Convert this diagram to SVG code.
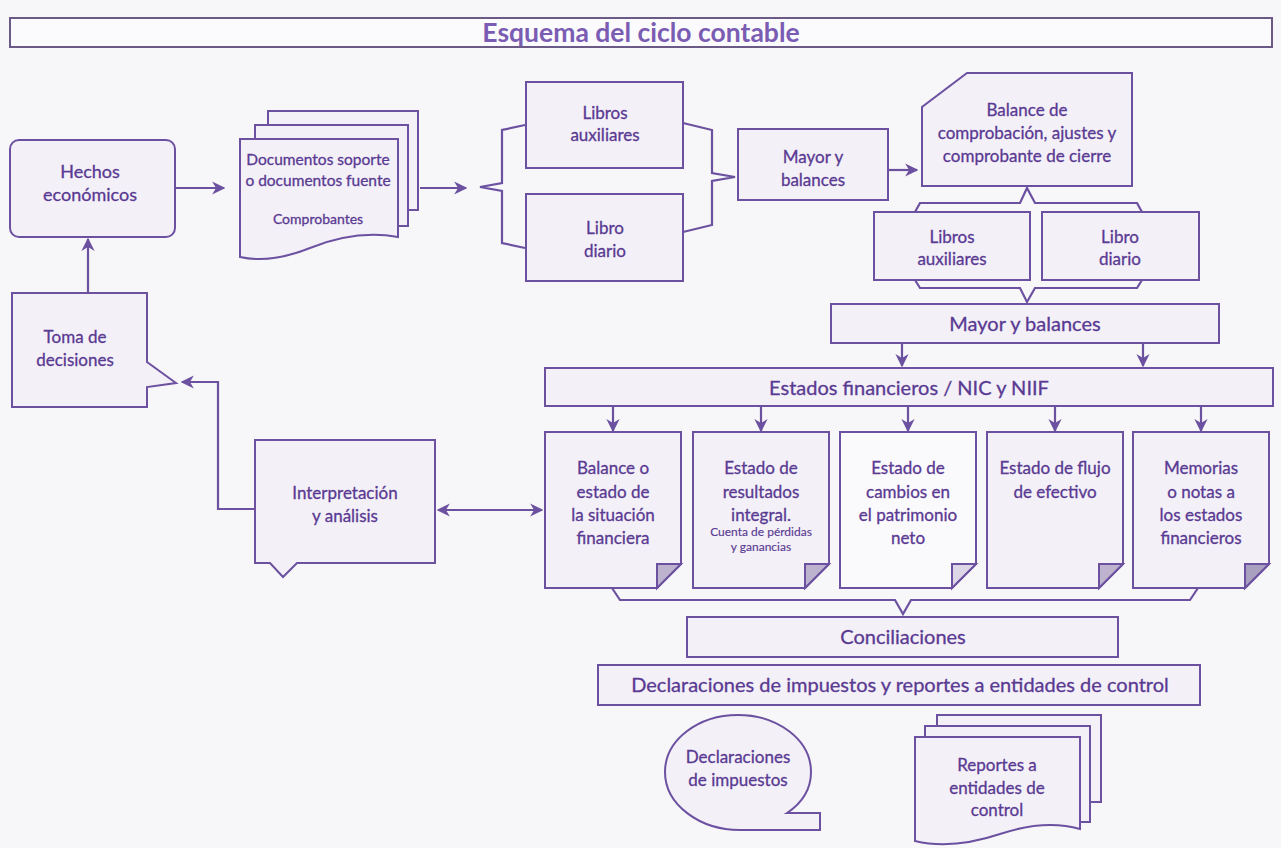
<svg xmlns="http://www.w3.org/2000/svg" width="1281" height="848" viewBox="0 0 1281 848">
<defs>
<style>
.bg{fill:#f7f6f8}
.n{fill:#f3f0f8;stroke:#6b51a0;stroke-width:2;stroke-linejoin:miter}
.w{fill:#faf9fc;stroke:#6b51a0;stroke-width:2}
.fold{fill:#bdb3cf;stroke:#6b51a0;stroke-width:2;stroke-linejoin:miter}
.c{fill:none;stroke:#6b51a0;stroke-width:2.2}
.t{font-family:Lato,"Open Sans","Liberation Sans",sans-serif;font-size:17px;fill:#5a3a92;stroke:#5a3a92;stroke-width:0.3;text-anchor:middle}
.l{font-size:20px}
.s{font-size:12px;stroke-width:0.15}
.m{font-size:14px}
.d{font-size:15.5px}
.title{font-family:Lato,"Open Sans","Liberation Sans",sans-serif;font-size:26.5px;font-weight:bold;fill:#7a5cb3;text-anchor:middle}
</style>
<marker id="ah" viewBox="0 0 10 10" refX="9" refY="5" markerWidth="6" markerHeight="6" orient="auto-start-reverse">
<path d="M0,0 L10,5 L0,10 L3,5 Z" fill="#6b51a0"/>
</marker>
</defs>
<rect class="bg" x="0" y="0" width="1281" height="848"/>

<g id="title">
<rect x="10" y="18" width="1262" height="29" fill="#fbfafc" stroke="#6b5a86" stroke-width="2"/>
<text class="title" x="641" y="42">Esquema del ciclo contable</text>
</g>

<g id="hechos">
<rect class="n" x="10" y="140" width="165" height="97" rx="9"/>
<text class="t" x="90" y="178" style="font-size:18px">Hechos</text>
<text class="t" x="90" y="201" style="font-size:18px">económicos</text>
</g>

<g id="toma">
<path class="n" d="M12,293 H147 V362 L176,383 L147,387 V407 H12 Z"/>
<text class="t" x="75" y="343">Toma de</text>
<text class="t" x="75" y="366">decisiones</text>
</g>

<g id="documentos">
<path class="n" d="M268,111 H418 V210 H268 Z"/>
<path class="n" d="M255,125 H408 V226 H255 Z"/>
<path class="n" d="M240,139 H398 V237 C370,232 340,236 310,248 C285,258 262,262 240,257 Z"/>
<text class="t d" x="318" y="165">Documentos soporte</text>
<text class="t d" x="318" y="186">o documentos fuente</text>
<text class="t m" x="318" y="224">Comprobantes</text>
</g>

<g id="libros-aux-1">
<rect class="n" x="526" y="82" width="157" height="86"/>
<text class="t" x="605" y="119">Libros</text>
<text class="t" x="605" y="141">auxiliares</text>
</g>

<g id="libro-diario-1">
<rect class="n" x="526" y="194" width="157" height="87"/>
<text class="t" x="605" y="234">Libro</text>
<text class="t" x="605" y="257">diario</text>
</g>

<g id="mayor-1">
<rect class="n" x="738" y="129" width="150" height="71"/>
<text class="t" x="813" y="163">Mayor y</text>
<text class="t" x="813" y="186">balances</text>
</g>

<g id="balance-comprobacion">
<path class="n" d="M967,73 H1132 V186 H922 V107 Z"/>
<text class="t" x="1027" y="116">Balance de</text>
<text class="t" x="1027" y="139">comprobación, ajustes y</text>
<text class="t" x="1027" y="162">comprobante de cierre</text>
</g>

<g id="libros-aux-2">
<rect class="n" x="874" y="212" width="156" height="68"/>
<text class="t" x="952" y="243">Libros</text>
<text class="t" x="952" y="265">auxiliares</text>
</g>

<g id="libro-diario-2">
<rect class="n" x="1042" y="212" width="157" height="68"/>
<text class="t" x="1120" y="243">Libro</text>
<text class="t" x="1120" y="265">diario</text>
</g>

<g id="mayor-2">
<rect class="n" x="831" y="304" width="388" height="39"/>
<text class="t l" x="1025" y="331">Mayor y balances</text>
</g>

<g id="estados">
<rect class="n" x="545" y="368" width="728" height="38"/>
<text class="t l" x="909" y="395">Estados financieros / NIC y NIIF</text>
</g>

<g id="doc-balance">
<path class="n" d="M545,432 H681 V564 L657,588 H545 Z"/>
<path class="fold" d="M681,564 H657 V588 Z"/>
<text class="t" x="613" y="474">Balance o</text>
<text class="t" x="613" y="498">estado de</text>
<text class="t" x="613" y="521">la situación</text>
<text class="t" x="613" y="544">financiera</text>
</g>

<g id="doc-resultados">
<path class="n" d="M693,432 H829 V564 L805,588 H693 Z"/>
<path class="fold" d="M829,564 H805 V588 Z"/>
<text class="t" x="761" y="474">Estado de</text>
<text class="t" x="761" y="498">resultados</text>
<text class="t" x="761" y="521">integral.</text>
<text class="t s" x="761" y="536">Cuenta de pérdidas</text>
<text class="t s" x="761" y="551">y ganancias</text>
</g>

<g id="doc-cambios">
<path class="w" d="M840,432 H976 V564 L952,588 H840 Z"/>
<path class="fold" d="M976,564 H952 V588 Z" style="fill:#dcd6e6"/>
<text class="t" x="908" y="474">Estado de</text>
<text class="t" x="908" y="498">cambios en</text>
<text class="t" x="908" y="521">el patrimonio</text>
<text class="t" x="908" y="544">neto</text>
</g>

<g id="doc-flujo">
<path class="n" d="M987,432 H1123 V564 L1099,588 H987 Z"/>
<path class="fold" d="M1123,564 H1099 V588 Z"/>
<text class="t" x="1055" y="474">Estado de flujo</text>
<text class="t" x="1055" y="498">de efectivo</text>
</g>

<g id="doc-memorias">
<path class="n" d="M1133,432 H1269 V564 L1245,588 H1133 Z"/>
<path class="fold" d="M1269,564 H1245 V588 Z" style="fill:#a99fbf"/>
<text class="t" x="1201" y="474">Memorias</text>
<text class="t" x="1201" y="498">o notas a</text>
<text class="t" x="1201" y="521">los estados</text>
<text class="t" x="1201" y="544">financieros</text>
</g>

<g id="interpretacion">
<path class="n" d="M255,440 H435 V563 H297 L283,577 L270,563 H255 Z"/>
<text class="t" x="345" y="499">Interpretación</text>
<text class="t" x="345" y="522">y análisis</text>
</g>

<g id="conciliaciones">
<rect class="n" x="687" y="617" width="431" height="40"/>
<text class="t l" x="903" y="644">Conciliaciones</text>
</g>

<g id="declaraciones-reportes">
<rect class="n" x="598" y="665" width="602" height="40"/>
<text class="t l" x="900" y="692">Declaraciones de impuestos y reportes a entidades de control</text>
</g>

<g id="declaraciones-impuestos">
<path class="n" d="M820,830 L740,830 C700,830 665,805 665,772 C665,740 698,715 738,715 C778,715 811,740 811,772 C811,790 802,803 787,813 L820,813 Z"/>
<text class="t" x="738" y="763">Declaraciones</text>
<text class="t" x="738" y="786">de impuestos</text>
</g>

<g id="reportes">
<path class="n" d="M937,715 H1101 V802 H937 Z"/>
<path class="n" d="M925,726 H1090 V822 H925 Z"/>
<path class="n" d="M915,737 H1080 V829 C1055,822 1030,824 1000,834 C970,844 940,847 915,841 Z"/>
<text class="t" x="997" y="771">Reportes a</text>
<text class="t" x="997" y="794">entidades de</text>
<text class="t" x="997" y="816">control</text>
</g>

<g id="connectors">
<path class="c" d="M175,188 H224" marker-end="url(#ah)"/>
<path class="c" d="M420,188 H466" marker-end="url(#ah)"/>
<path class="c" d="M888,170 H917" marker-end="url(#ah)"/>
<path class="c" d="M88,293 V239" marker-end="url(#ah)"/>
<path class="c" d="M902,343 V366" marker-end="url(#ah)"/>
<path class="c" d="M1143,343 V366" marker-end="url(#ah)"/>
<path class="c" d="M613,406 V431" marker-end="url(#ah)"/>
<path class="c" d="M761,406 V431" marker-end="url(#ah)"/>
<path class="c" d="M908,406 V431" marker-end="url(#ah)"/>
<path class="c" d="M1055,406 V431" marker-end="url(#ah)"/>
<path class="c" d="M1201,406 V431" marker-end="url(#ah)"/>
<path class="c" d="M438,510 H542" marker-start="url(#ah)" marker-end="url(#ah)"/>
<path class="c" d="M255,509 H218 V382 H182" marker-end="url(#ah)"/>
<path class="c" d="M525,125 L502,130 L502,183 L480,187 L502,191 L502,243 L525,248"/>
<path class="c" d="M683,123 L712,130 L712,173 L735,177 L712,181 L712,225 L683,232"/>
<path class="c" d="M915,212 L920,203 H1020 L1027,188 L1035,203 H1137 L1142,212"/>
<path class="c" d="M915,280 L920,288 H1020 L1027,302 L1035,288 H1137 L1142,280"/>
<path class="c" d="M612,588 L620,600 H895 L903,614 L911,600 H1190 L1198,588"/>
</g>
</svg>
